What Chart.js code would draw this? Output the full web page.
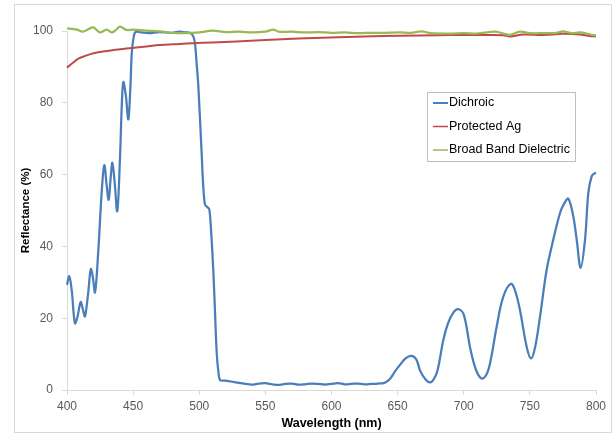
<!DOCTYPE html>
<html><head><meta charset="utf-8">
<script src="https://cdn.jsdelivr.net/npm/chart.js@4"></script>
<style>html,body{margin:0;padding:0;background:#fff}</style>
</head><body>
<canvas id="c" width="615" height="434"></canvas>
<script>
// ---- data ----
const seriesNames = ["Dichroic", "Protected Ag", "Broad Band Dielectric"];
const xTicks = [400, 450, 500, 550, 600, 650, 700, 750, 800];
const yTicks = [0, 20, 40, 60, 80, 100];

const dichroicNm = [400,401.7,403.5,406,408,410.3,412,413.6,416,418,419.5,421.2,423.7,426.2,428.2,430,431.5,433,434.3,436,438,440,441.5,442.6,444.5,446.4,448,449,450.5,452,456,462,470,478,485,490,493,495.5,496.8,498,499.3,501.8,503,504.3,506,507.6,509,510.6,512,513.2,514.5,515.7,519.5,
  525,530,535,540,545,550,555,560,565,570,575,580,585,590,595,600,605,610,615,620,625,630,635,640,644,648,651.8,656,660.1,664,667,671,674.5,677,680,684.6,688,692,695.9,700,704.7,708,711,714.3,718,721,724.9,729.9,735.7,739,742.5,747.6,750.9,754,757.7,762.7,767.7,772.8,776,779.1,782.8,785.4,788.4,791.7,794.2,796.7,798.7,800];
const dichroicR = [29.3,31.7,28,18.6,20.5,24.5,22.5,20.5,27,33.7,31.5,27.2,39,55,62.6,57,53,59,63.3,58,49.8,64,80,85.8,82,75.4,85,94,98.5,99.8,99.6,99.4,99.7,99.5,99.8,99.6,99.5,98.5,96.4,91,84.7,66,57,51.7,51,50.3,44,33.5,21,10.3,5,2.8,2.6,
  2.3,2.0,1.7,1.5,1.8,1.9,1.6,1.4,1.7,1.8,1.5,1.6,1.8,1.7,1.5,1.7,1.9,1.6,1.7,1.8,1.6,1.7,1.8,2.0,3.0,5.2,7.0,8.8,9.5,8.6,5.4,3.0,2.1,2.8,5.2,14,18.5,21.5,22.5,21,12,7,4.2,3.2,5,9.5,17.7,26,29.6,27.5,22.3,12,8.8,12,20.5,33.5,41.9,49.3,52,53.3,48.4,41.9,34,41.9,54.9,59.5,60.3,60.5];

const agNm = [400,404,408.6,415,420,430,445,460,470,485,495.5,510,528,550,575,599,625,652,680,700,720,730,735,745,760,775,788,795,800];
const agR  = [89.8,91,92.3,93.2,93.8,94.4,95.1,95.7,96.1,96.4,96.6,96.8,97.1,97.5,97.9,98.2,98.5,98.7,98.8,98.9,98.9,98.8,98.5,99.0,98.9,99.2,99.0,98.6,98.5];

const bbdNm = [400,405,408,412,416,420,425,430,433.8,437,440,445,450,460,470,480,490,500,510,520,530,540,550,556,560,570,580,590,600,610,620,630,640,652,660,668,675,690,700,710,723.6,730,735,742.5,750,760,770,775,782,788,795,800];
const bbdR  = [100.7,100.5,100.3,99.8,100.5,101,99.6,100.4,99.6,100.3,101.2,100.3,100.4,100.1,99.9,99.5,99.4,99.6,100.1,99.7,99.8,99.6,99.8,100.4,99.8,99.8,99.6,99.7,99.5,99.6,99.4,99.5,99.5,99.6,99.5,99.9,99.4,99.3,99.4,99.3,99.8,99.3,98.9,99.8,99.4,99.4,99.5,99.9,99.4,99.6,99.1,98.7];

const colors = ["#4a7ebb", "#be4b48", "#98b954"];

const toPts = (xs, ys) => xs.map((x, i) => ({x: x, y: ys[i]}));

const framePlugin = {
  id: 'frame',
  beforeDraw(chart) {
    const ctx = chart.ctx;
    ctx.save();
    ctx.fillStyle = '#fff';
    ctx.fillRect(0, 0, chart.width, chart.height);
    ctx.strokeStyle = '#d9d9d9';
    ctx.lineWidth = 1;
    ctx.strokeRect(14.5, 4.5, 597, 428);
    ctx.restore();
  }
};

const legendPlugin = {
  id: 'boxLegend',
  afterDraw(chart) {
    const ctx = chart.ctx;
    ctx.save();
    const bx = 427.5, by = 92.5, bw = 148, bh = 69;
    ctx.fillStyle = '#fff';
    ctx.fillRect(bx, by, bw, bh);
    ctx.strokeStyle = '#bfbfbf';
    ctx.lineWidth = 1;
    ctx.strokeRect(bx, by, bw, bh);
    ctx.font = '12.5px "Liberation Sans", Arial, sans-serif';
    ctx.textBaseline = 'middle';
    ctx.fillStyle = '#000';
    const rows = [103, 126.5, 150];
    seriesNames.forEach((n, i) => {
      ctx.strokeStyle = colors[i];
      ctx.lineWidth = i === 0 ? 2 : 1.5;
      ctx.beginPath();
      ctx.moveTo(433, rows[i]);
      ctx.lineTo(448, rows[i]);
      ctx.stroke();
      ctx.fillText(n, 449, rows[i]);
    });
    ctx.restore();
  }
};

new Chart(document.getElementById('c'), {
  type: 'line',
  data: {
    datasets: [
      {label: seriesNames[0], data: toPts(dichroicNm, dichroicR), borderColor: colors[0], borderWidth: 2.25, pointRadius: 0, tension: 0.35, clip: false, order: 3},
      {label: seriesNames[1], data: toPts(agNm, agR), borderColor: colors[1], borderWidth: 2, pointRadius: 0, tension: 0.35, clip: false, order: 2},
      {label: seriesNames[2], data: toPts(bbdNm, bbdR), borderColor: colors[2], borderWidth: 2.25, pointRadius: 0, tension: 0.35, clip: false, order: 1}
    ]
  },
  options: {
    responsive: false,
    animation: false,
    devicePixelRatio: 1,
    elements: {line: {capBezierPoints: false}},
    layout: {padding: {left: 0, right: 19, top: 31, bottom: 0}},
    plugins: {legend: {display: false}, tooltip: {enabled: false}},
    scales: {
      x: {
        type: 'linear', min: 400, max: 800,
        afterBuildTicks: (s) => { s.ticks = xTicks.map(v => ({value: v})); },
        afterFit: (s) => { s.height = 44; },
        grid: {drawOnChartArea: false, drawTicks: true, tickLength: 5, color: '#d9d9d9'},
        border: {color: '#d9d9d9', width: 1},
        ticks: {color: '#595959', font: {family: '"Liberation Sans", Arial, sans-serif', size: 12}, padding: 4, maxRotation: 0},
        title: {display: true, text: 'Wavelength (nm)', color: '#000', font: {family: '"Liberation Sans", Arial, sans-serif', size: 12.5, weight: 'bold'}, padding: {top: 0, bottom: 3}}
      },
      y: {
        min: 0, max: 100,
        afterBuildTicks: (s) => { s.ticks = yTicks.map(v => ({value: v})); },
        afterFit: (s) => { s.width = 67; },
        grid: {drawOnChartArea: false, drawTicks: true, tickLength: 5, color: '#d9d9d9'},
        border: {color: '#d9d9d9', width: 1},
        ticks: {color: '#595959', font: {family: '"Liberation Sans", Arial, sans-serif', size: 12}, padding: 9},
        title: {display: true, text: 'Reflectance (%)', color: '#000', font: {family: '"Liberation Sans", Arial, sans-serif', size: 11.5, weight: 'bold'}, padding: {top: 19, bottom: 0}}
      }
    }
  },
  plugins: [framePlugin, legendPlugin]
});
</script>
</body></html>
